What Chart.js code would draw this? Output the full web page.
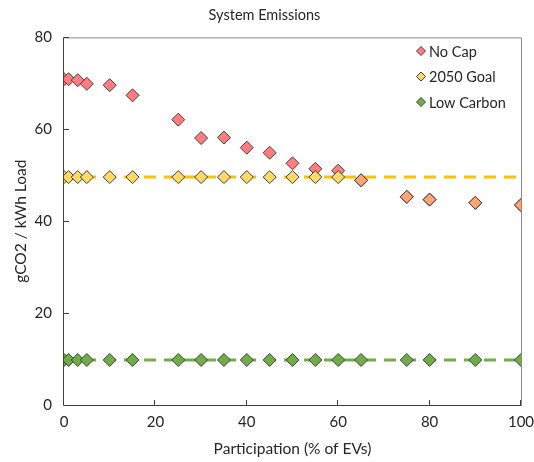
<!DOCTYPE html>
<html>
<head>
<meta charset="utf-8">
<script src="https://cdn.jsdelivr.net/npm/chart.js@4/dist/chart.umd.min.js"></script>
<style>
  html, body { margin: 0; padding: 0; background: #fff; }
  #wrap { width: 534px; height: 462px; position: relative; }
</style>
</head>
<body>
<div id="wrap"><canvas id="emissionsChart"></canvas></div>
<script>
var participation = [0, 1, 3, 5, 10, 15, 25, 30, 35, 40, 45, 50, 55, 60, 65, 75, 80, 90, 100];
var noCap = [70.9, 70.9, 70.7, 69.9, 69.6, 67.4, 62.1, 58.1, 58.2, 56.0, 54.9, 52.6, 51.4, 51.0, 48.9, 45.3, 44.7, 44.0, 43.5];
var goal2050 = [49.6, 49.6, 49.6, 49.6, 49.6, 49.6, 49.6, 49.6, 49.6, 49.6, 49.6, 49.6, 49.6, 49.6, 48.9, 45.3, 44.7, 44.0, 43.5];
var lowCarbon = [9.8, 9.8, 9.8, 9.8, 9.8, 9.8, 9.8, 9.8, 9.8, 9.8, 9.8, 9.8, 9.8, 9.8, 9.8, 9.8, 9.8, 9.8, 9.8];
var goalLine = 49.6;
var lowLine = 9.8;
var xTicks = [0, 20, 40, 60, 80, 100];
var yTicks = [0, 20, 40, 60, 80];

var FONT = 'Lato, "Liberation Sans", sans-serif';

function pts(ys) {
    return participation.map(function (x, i) { return { x: x, y: ys[i] }; });
}

var frame = {
    id: 'frame',
    afterDraw: function (chart) {
        var c = chart.ctx, a = chart.chartArea;
        var xs = chart.scales.x, ys = chart.scales.y;
        c.save();
        c.strokeStyle = '#8a8a8a';
        c.lineWidth = 1;
        c.beginPath();
        c.moveTo(a.left, a.top + 0.5); c.lineTo(a.right + 0.5, a.top + 0.5); c.lineTo(a.right + 0.5, a.bottom);
        c.stroke();
        c.strokeStyle = '#404040';
        c.beginPath();
        c.moveTo(a.left - 0.5, a.top); c.lineTo(a.left - 0.5, a.bottom + 0.5); c.lineTo(a.right + 0.5, a.bottom + 0.5);
        xTicks.forEach(function (t) {
            var px = Math.round(xs.getPixelForValue(t)) - 0.5;
            c.moveTo(px, a.bottom); c.lineTo(px, a.bottom - 5);
        });
        yTicks.forEach(function (t) {
            var py = Math.round(ys.getPixelForValue(t)) + 0.5;
            c.moveTo(a.left, py); c.lineTo(a.left + 5, py);
        });
        c.stroke();

        // legend inside the plot
        var items = chart.data.datasets.filter(function (d) { return d.label; });
        c.font = '14.5px ' + FONT;
        c.textBaseline = 'middle';
        items.forEach(function (d, i) {
            var y = 51 + i * 25.5, x = 421;
            c.beginPath();
            c.moveTo(x, y - 4.5); c.lineTo(x + 4.5, y); c.lineTo(x, y + 4.5); c.lineTo(x - 4.5, y); c.closePath();
            c.fillStyle = d.legendColor;
            c.fill();
            c.strokeStyle = '#404040';
            c.stroke();
            c.fillStyle = '#262626';
            c.fillText(d.label, x + 8, y + 1);
        });
        c.restore();
    }
};

new Chart(document.getElementById('emissionsChart'), {
    type: 'scatter',
    data: {
        datasets: [
            {
                data: [{ x: 0, y: goalLine }, { x: 100, y: goalLine }],
                showLine: true, borderColor: '#FFC000', borderWidth: 3, borderDash: [12, 8],
                pointRadius: 0, order: 5
            },
            {
                data: [{ x: 0, y: lowLine }, { x: 100, y: lowLine }],
                showLine: true, borderColor: '#70AD47', borderWidth: 3, borderDash: [12, 8],
                pointRadius: 0, order: 5
            },
            {
                label: 'No Cap', data: pts(noCap), legendColor: '#FF7C80',
                pointStyle: 'rectRot', pointRadius: 6.5, pointBackgroundColor: '#FF7C80',
                pointBorderColor: '#404040', pointBorderWidth: 1, order: 3
            },
            {
                label: '2050 Goal', data: pts(goal2050), legendColor: '#FFD966',
                pointStyle: 'rectRot', pointRadius: 6.5,
                pointBackgroundColor: function (ctx) {
                    var i = ctx.dataIndex;
                    return goal2050[i] === noCap[i] ? '#FFA575' : '#FFD966';
                },
                pointBorderColor: '#404040', pointBorderWidth: 1, order: 2
            },
            {
                label: 'Low Carbon', data: pts(lowCarbon), legendColor: '#70AD47',
                pointStyle: 'rectRot', pointRadius: 6.5, pointBackgroundColor: '#70AD47',
                pointBorderColor: '#404040', pointBorderWidth: 1, order: 1
            }
        ]
    },
    options: {
        responsive: true,
        maintainAspectRatio: false,
        animation: false,
        layout: { padding: { left: 8, right: 13, top: 0, bottom: 0 } },
        plugins: {
            legend: { display: false },
            tooltip: { enabled: false },
            title: {
                display: true, text: 'System Emissions', color: '#262626',
                font: { family: FONT, size: 14.5, weight: 'normal' },
                padding: { top: 7, bottom: 13 }
            }
        },
        scales: {
            x: {
                type: 'linear', min: 0, max: 100,
                ticks: { stepSize: 20, color: '#262626', font: { family: FONT, size: 15 }, padding: 8 },
                grid: { display: false, drawTicks: false },
                border: { display: false },
                title: { display: true, text: 'Participation (% of EVs)', color: '#262626', font: { family: FONT, size: 15.5 }, padding: { top: 1 } },
                afterFit: function (s) { s.height = 57; s.paddingRight = 0; s.paddingLeft = 0; }
            },
            y: {
                min: 0, max: 80,
                ticks: { stepSize: 20, color: '#262626', font: { family: FONT, size: 15 }, padding: 12 },
                grid: { display: false, drawTicks: false },
                border: { display: false },
                title: { display: true, text: 'gCO2 / kWh Load', color: '#262626', font: { family: FONT, size: 15.5 }, padding: { bottom: 0 } },
                afterFit: function (s) { s.width = 56; }
            }
        }
    },
    plugins: [frame]
});
</script>
</body>
</html>
